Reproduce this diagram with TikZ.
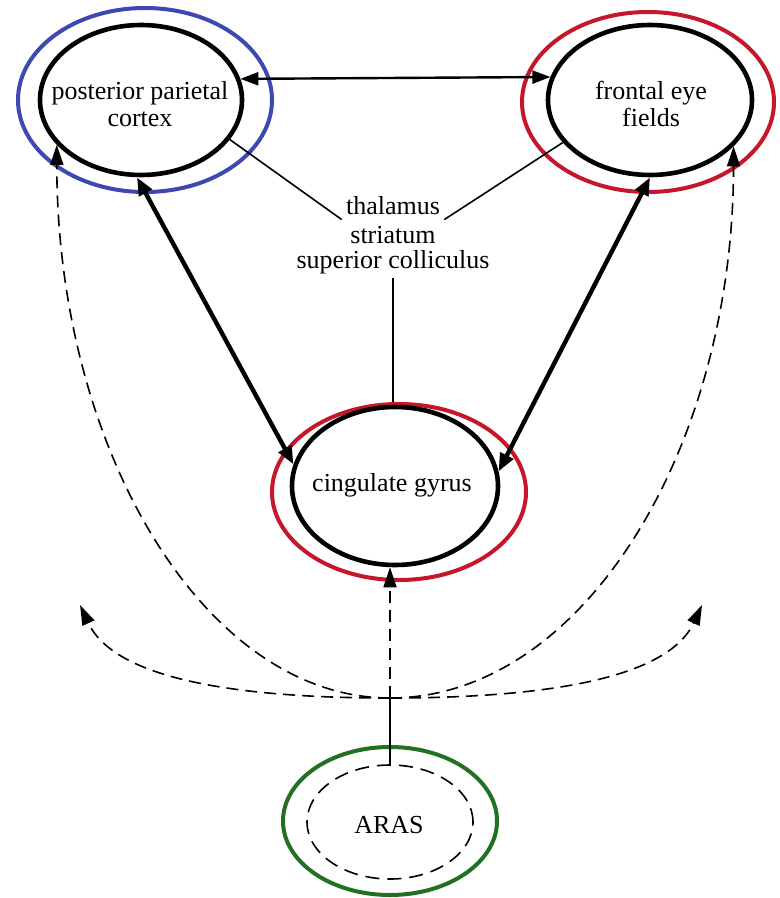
\documentclass[tikz,border=0pt]{standalone}
\usepackage{fontspec}
\setmainfont{Liberation Serif}
\usetikzlibrary{shapes.geometric,arrows.meta,calc}

\definecolor{ringblue}{RGB}{62,72,178}
\definecolor{ringred}{RGB}{198,22,42}
\definecolor{ringgreen}{RGB}{34,112,34}

\begin{document}
\begin{tikzpicture}[x=0.5pt,y=-0.5pt,
  region/.style={ellipse, draw, line width=2.3pt, inner sep=0pt},
  ring/.style={ellipse, draw, line width=2pt, inner sep=0pt},
  caption/.style={inner sep=2pt, align=center, font=\fontsize{13}{13.5}\selectfont},
  duplex/.style={line width=2.2pt, {Triangle[length=9pt,width=7pt]}-{Triangle[length=9pt,width=7pt]}},
  crosslink/.style={line width=1.2pt, {Triangle[length=9pt,width=6.5pt]}-{Triangle[length=9pt,width=6.5pt]}},
  relay/.style={line width=0.8pt},
  arousal/.style={line width=0.8pt, dash pattern=on 6pt off 3.5pt, -{Triangle[length=10pt,width=6.5pt]}}
]
\useasboundingbox (0,0) rectangle (780,898);

% posterior parietal cortex
\node[ring, draw=ringblue, minimum width=127pt, minimum height=92pt] (ppcO) at (145,100) {};
\node[region, minimum width=101pt, minimum height=75pt] (ppc) at (141,100) {};
\node[caption] (ppcT) at (140,104) {posterior parietal\\cortex};

% frontal eye fields
\node[ring, draw=ringred, minimum width=126pt, minimum height=90pt] (fefO) at (648,102) {};
\node[region, minimum width=102pt, minimum height=75pt] (fef) at (650,100) {};
\node[caption] (fefT) at (651,104) {frontal eye\\fields};

% cingulate gyrus
\node[ring, draw=ringred, minimum width=127pt, minimum height=88pt] (cgO) at (399,492) {};
\node[region, minimum width=103pt, minimum height=79pt] (cg) at (395,486) {};
\node[caption] (cgT) at (392,485) {cingulate gyrus};

% ARAS
\node[ring, draw=ringgreen, minimum width=107pt, minimum height=74pt] (arasO) at (390,821) {};
\node[ellipse, draw, line width=0.8pt, dash pattern=on 7pt off 4pt, inner sep=0pt,
      minimum width=83pt, minimum height=57pt] (aras) at (390,822) {};
\node[caption] (arasT) at (389,825) {ARAS};

% subcortical relays
\node[caption] (thA) at (393,206) {thalamus};
\node[caption] (thB) at (393,235) {striatum};
\node[caption] (thC) at (393,262) {superior colliculus};

% cortical connections
\draw[crosslink] (ppc.12.5) -- (fef.167.5);
\draw[duplex] (ppc.267) -- (cg.168.7);
\draw[duplex] (fef.270) -- (cg.8.9);

% relay lines
\draw[relay] (thA.south west) -- (ppc.-24);
\draw[relay] (thA.south east) -- (fef.206);
\draw[relay] (thC.south) -- (thC.south |- cgO.north);

% ascending arousal projections
\coordinate (J) at (390,698);
\draw[relay] (aras.north) -- (J);
\draw[arousal] (J) -- (J |- cg.south);
\draw[arousal] (J) .. controls +(-186,0) and +(0,304) .. (ppc.208);
\draw[arousal] (J) .. controls +(192,0) and +(0,304) .. (fef.-29);
\coordinate (LF) at (80,605);
\coordinate (RF) at (702,605);
\draw[arousal] (J) .. controls +(-150,0) and +(35,75) .. (LF);
\draw[arousal] (J) .. controls +(150,0) and +(-35,75) .. (RF);
\end{tikzpicture}
\end{document}
